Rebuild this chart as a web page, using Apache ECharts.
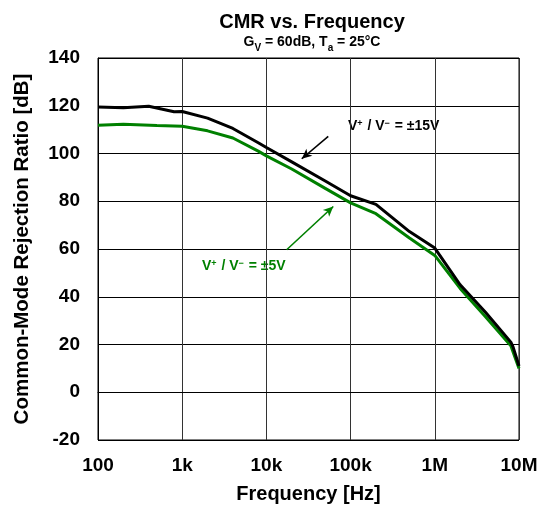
<!DOCTYPE html>
<html>
<head>
<meta charset="utf-8">
<script src="https://cdn.jsdelivr.net/npm/echarts@6/dist/echarts.min.js"></script>
<style>html,body{margin:0;padding:0;background:#fff}#c{width:541px;height:509px}</style>
</head>
<body>
<div id="c"></div>
<script>
// ---- data ----
var freq15 = [100, 200, 400, 800, 1000, 2000, 4000, 8000, 10000, 20000, 50000, 100000, 200000, 500000, 1000000, 2000000, 4000000, 8000000, 8500000, 10000000];
var cmr15  = [119.5, 119.2, 119.8, 117.5, 117.6, 114.8, 110.5, 104.5, 102.5, 96.5, 88.5, 82.3, 78.7, 67.3, 60.4, 45.0, 33.5, 21.0, 19.0, 11.0];
var freq5  = [100, 200, 500, 1000, 2000, 4000, 8000, 10000, 20000, 50000, 100000, 200000, 500000, 1000000, 2000000, 4000000, 8000000, 10000000];
var cmr5   = [111.8, 112.3, 111.7, 111.4, 109.5, 106.5, 101.0, 99.0, 93.5, 85.4, 79.3, 74.8, 64.6, 57.3, 43.5, 31.6, 19.5, 10.0];
var xTickLabels = {100: '100', 1000: '1k', 10000: '10k', 100000: '100k', 1000000: '1M', 10000000: '10M'};
var yTicks = [-20, 0, 20, 40, 60, 80, 100, 120, 140];
var arrow15 = [[54300, 107.2], [26300, 97.8]];
var arrow5  = [[17400, 59.7], [62300, 77.8]];
var label15 = 'V{sup|+} / V{sup|\u2212} = \u00b115V';
var label5  = 'V{sup|+} / V{sup|\u2212} = \u00b15V';

var FONT = '"Liberation Sans", Arial, "DejaVu Sans", sans-serif';
var GREEN = '#008000';

function pairs(xs, ys) { return xs.map(function (x, i) { return [x, ys[i]]; }); }

var chart = echarts.init(document.getElementById('c'), null, {renderer: 'canvas'});
chart.setOption({
  animation: false,
  backgroundColor: '#fff',
  title: {
    text: 'CMR vs. Frequency',
    subtext: 'G{sub|V} = 60dB, T{sub|a} = 25\u00b0C',
    left: 307,
    textAlign: 'center',
    top: 7,
    itemGap: 2,
    textStyle: {fontFamily: FONT, fontWeight: 'bold', fontSize: 20, color: '#000'},
    subtextStyle: {
      fontFamily: FONT, fontWeight: 'bold', fontSize: 14, color: '#000', lineHeight: 17,
      rich: {sub: {fontFamily: FONT, fontWeight: 'bold', fontSize: 10, color: '#000', verticalAlign: 'bottom', lineHeight: 17, padding: [0, 0, -2, 0]}}
    }
  },
  grid: {left: 98, right: 22, top: 58, bottom: 67, show: true, borderColor: '#000', borderWidth: 1},
  xAxis: {
    type: 'log', logBase: 10, min: 100, max: 10000000,
    name: 'Frequency [Hz]', nameLocation: 'middle', nameGap: 44,
    nameTextStyle: {fontFamily: FONT, fontWeight: 'bold', fontSize: 20, color: '#000'},
    axisLine: {show: true, lineStyle: {color: '#000', width: 1}},
    axisTick: {show: false},
    minorTick: {show: false},
    splitLine: {show: true, lineStyle: {color: '#333', width: 1}},
    axisLabel: {
      margin: 16, fontFamily: FONT, fontWeight: 'bold', fontSize: 19, color: '#000',
      formatter: function (v) { return xTickLabels[Math.round(v)] || ''; }
    }
  },
  yAxis: {
    type: 'value', min: -20, max: 140, interval: 20,
    name: 'Common-Mode Rejection Ratio [dB]', nameLocation: 'middle', nameGap: 65,
    nameTextStyle: {fontFamily: FONT, fontWeight: 'bold', fontSize: 20.5, color: '#000'},
    axisLine: {show: true, lineStyle: {color: '#000', width: 1}},
    axisTick: {show: false},
    splitLine: {show: true, lineStyle: {color: '#000', width: 1}},
    axisLabel: {
      margin: 18, fontFamily: FONT, fontWeight: 'bold', fontSize: 19, color: '#000',
      formatter: function (v) { return yTicks.indexOf(v) >= 0 ? String(v) : ''; }
    }
  },
  series: [
    {
      name: '15V', type: 'line', data: pairs(freq15, cmr15), showSymbol: false, symbol: 'none',
      lineStyle: {color: '#000', width: 3}, z: 3,
      markLine: {
        silent: true, symbol: ['none', 'arrow'], symbolSize: [7, 10],
        label: {show: false},
        lineStyle: {color: '#000', width: 1.6, type: 'solid'},
        data: [[{coord: arrow15[0]}, {coord: arrow15[1]}]]
      }
    },
    {
      name: '5V', type: 'line', data: pairs(freq5, cmr5), showSymbol: false, symbol: 'none',
      lineStyle: {color: GREEN, width: 3}, z: 2,
      markLine: {
        silent: true, symbol: ['none', 'arrow'], symbolSize: [7, 10],
        label: {show: false},
        lineStyle: {color: GREEN, width: 1.6, type: 'solid'},
        data: [[{coord: arrow5[0]}, {coord: arrow5[1]}]]
      }
    }
  ],
  graphic: [
    {
      type: 'text', left: 348, top: 119,
      style: {
        text: label15, fill: '#000', font: 'bold 14px ' + FONT,
        rich: {sup: {fontSize: 9, fontWeight: 'bold', fontFamily: FONT, fill: '#000', verticalAlign: 'top', padding: [0, 1, 6, 0]}}
      }
    },
    {
      type: 'text', left: 202, top: 259,
      style: {
        text: label5, fill: GREEN, font: 'bold 14px ' + FONT,
        rich: {sup: {fontSize: 9, fontWeight: 'bold', fontFamily: FONT, fill: GREEN, verticalAlign: 'top', padding: [0, 1, 6, 0]}}
      }
    }
  ]
});
</script>
</body>
</html>
